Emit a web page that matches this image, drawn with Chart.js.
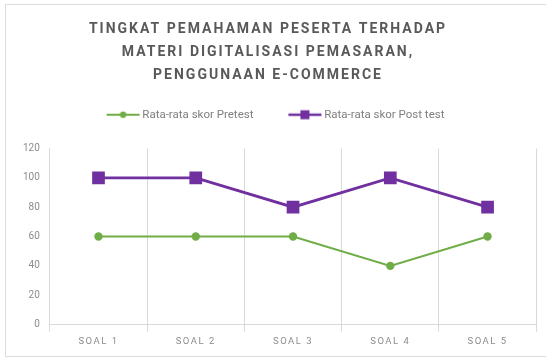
<!DOCTYPE html>
<html>
<head>
<meta charset="utf-8">
<script src="https://cdn.jsdelivr.net/npm/chart.js@4/dist/chart.umd.min.js"></script>
<style>
  body { margin: 0; background: #fff; }
  #wrap { position: relative; width: 546px; height: 358px; overflow: hidden; }
  #frame { position: absolute; left: 5px; top: 4px; width: 560px; height: 351px; border: 1px solid #dcdcdc; pointer-events: none; }
  canvas { position: absolute; left: 0; top: 0; }
</style>
</head>
<body>
<div id="wrap">
  <canvas id="chart" width="546" height="358"></canvas>
  <div id="frame"></div>
</div>
<script>
const ctx = document.getElementById('chart');

// data
const titleLines = ['TINGKAT PEMAHAMAN PESERTA TERHADAP', 'MATERI DIGITALISASI PEMASARAN,', 'PENGGUNAAN E-COMMERCE'];
const soal = ['SOAL 1', 'SOAL 2', 'SOAL 3', 'SOAL 4', 'SOAL 5'];
const pretest = [60, 60, 60, 40, 60];
const posttest = [100, 100, 80, 100, 80];
const seriesNames = ['Rata-rata skor Pretest', 'Rata-rata skor Post test'];

const green = '#70AD47';
const purple = '#7030A0';

// legend marker: line with point, drawn into a small canvas
// box is 55 wide, image sticks out 4px each side
function legendIcon(color, square) {
    let c = document.createElement('canvas');
    c.width = 63; c.height = 14;
    let g = c.getContext('2d');
    g.strokeStyle = color;
    g.lineWidth = square ? 2.5 : 2;
    g.beginPath(); g.moveTo(29, 7); g.lineTo(62, 7); g.stroke();
    g.fillStyle = color;
    if (square) {
        g.fillRect(41, 2.5, 9, 9);
    } else {
        g.beginPath(); g.arc(45.5, 7, 3.2, 0, Math.PI * 2); g.fill();
    }
    return c;
}
const icons = [legendIcon(green, false), legendIcon(purple, true)];

function spaced(obj, fn, px, dx) {
    if (!obj || obj._spaced) return;
    const orig = obj[fn];
    obj[fn] = function () {
        const c = this.ctx;
        c.save();
        c.letterSpacing = px;
        if (dx) c.translate(dx, 0);
        orig.apply(this, arguments);
        c.restore();
    };
    obj._spaced = true;
}

const tweaks = {
    id: 'tweaks',
    beforeInit(chart) {
        const fit = chart.legend.fit;
        chart.legend.fit = function () {
            fit.bind(chart.legend)();
            this.height += 18;
            this.lineWidths[0] += 24;
        };
        spaced(chart.titleBlock, 'draw', '2px', -7);
    },
    beforeDraw(chart) {
        spaced(chart.scales.x, 'drawLabels', '1.5px');
    }
};

chart = new Chart(ctx, {
    type: 'line',
    data: {
        labels: soal,
        datasets: [{
            label: seriesNames[0],
            data: pretest,
            borderColor: green,
            backgroundColor: green,
            borderWidth: 2,
            pointStyle: 'circle',
            pointRadius: 3.2,
            pointHoverRadius: 3.2
        }, {
            label: seriesNames[1],
            data: posttest,
            borderColor: purple,
            backgroundColor: purple,
            borderWidth: 2.8,
            pointStyle: 'rect',
            pointRadius: 7,
            pointHoverRadius: 7
        }]
    },
    options: {
        responsive: false,
        animation: false,
        layout: { padding: { top: 6, left: 13, right: 9, bottom: 7 } },
        plugins: {
            title: {
                display: true,
                text: titleLines,
                color: '#595959',
                font: { family: 'Roboto', size: 14, weight: 'bold', lineHeight: 23 / 14 },
                padding: { top: 12, bottom: 12 }
            },
            legend: {
                labels: {
                    usePointStyle: true,
                    pointStyleWidth: 55,
                    boxHeight: 10,
                    color: '#7f7f7f',
                    font: { family: 'Roboto', size: 11.5 },
                    padding: 10,
                    generateLabels(chart) {
                        const items = Chart.defaults.plugins.legend.labels.generateLabels(chart);
                        items.forEach((it, i) => { it.pointStyle = icons[i]; });
                        return items;
                    }
                }
            },
            tooltip: { enabled: false }
        },
        scales: {
            x: {
                offset: true,
                grid: { offset: true, color: '#d9d9d9', tickLength: 7 },
                border: { color: '#d9d9d9' },
                ticks: { color: '#8c8c8c', font: { family: 'Roboto', size: 9.5 }, padding: 4 }
            },
            y: {
                min: 0,
                max: 120,
                grid: { display: false, drawTicks: false },
                border: { display: true, color: '#d9d9d9' },
                ticks: { stepSize: 20, color: '#8c8c8c', font: { family: 'Roboto', size: 10 }, padding: 10 }
            }
        }
    },
    plugins: [tweaks]
});
</script>
</body>
</html>
